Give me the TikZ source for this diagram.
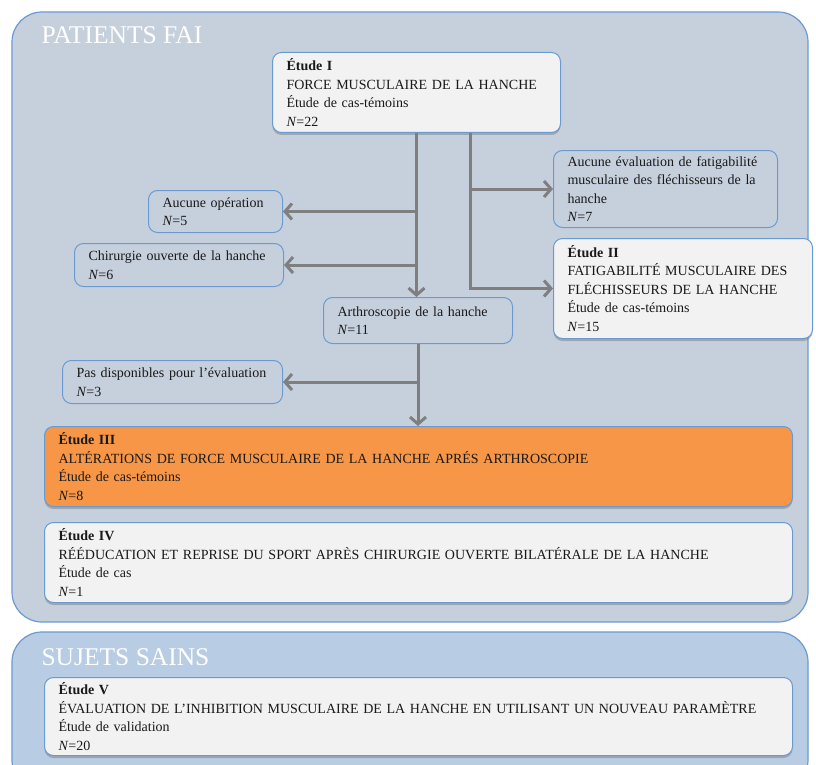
\documentclass[tikz,border=0pt]{standalone}
\usepackage{fontspec}
\setmainfont{Liberation Serif}
\usetikzlibrary{arrows.meta,shadows,calc}
\definecolor{frameblue}{HTML}{6A9AD2}
\definecolor{paneltop}{HTML}{C6D0DD}
\definecolor{panelbot}{HTML}{B8CCE4}
\definecolor{boxwhite}{HTML}{F2F2F2}
\definecolor{studyorange}{HTML}{F79646}
\definecolor{arrowgray}{HTML}{7F7F7F}
\newcommand{\branch}[2]
{
	\draw[flow] (#1 |- #2) -- (#2)
}

\begin{document}
\begin{tikzpicture}[x=1pt, y=-1pt,
			panel/.style={draw=frameblue,
				line width=1.2pt,
			rounded corners=30pt},
			title/.style={anchor=west,
				text=white,
			font=\fontsize{25.5}{26}\selectfont},
			box/.append style={draw=frameblue,
				line width=1pt,
				rounded corners=9pt,
				anchor=north west,
				align=left,
				inner xsep=14pt,
				inner ysep=3pt,
				text=black!90,
			font=\fontsize{14}{18.5}\selectfont},
			study/.append style={box,
				fill=boxwhite,
			drop shadow={opacity=0.5, shadow xshift=0pt, shadow yshift=-2.5pt}},
			flow/.style ={draw=arrowgray, line width=3pt,
			-{Straight Barb[length=7pt, width=16pt, line width=3pt]}}]
			
			\useasboundingbox (0,0) rectangle (816,765);
			\clip (0,0) rectangle (816,765);
			
			% the two groups
			\draw[panel, fill=paneltop] (12,12) rectangle (808,622);
			\draw[panel, fill=panelbot] (12,632) rectangle (808,790);
			\node[title] at (38,35) (patients){PATIENTS FAI};
			\node[title] at (38,657) (sains){SUJETS SAINS};
			
			\node[study, text width=260pt, minimum height=80pt] at (272,52) (etudeI){\textbf{Étude I}\\FORCE MUSCULAIRE DE LA HANCHE\\Étude de cas-témoins\\\textit{N}=22};
			\node[box, text width=196pt, minimum height=77pt] at (553,150) (aucEval){Aucune évaluation de fatigabilité\\musculaire des fléchisseurs de la\\hanche\\\textit{N}=7};
			\node[study, text width=231pt, minimum height=100pt] at (553,238) (etudeII){\textbf{Étude II}\\FATIGABILITÉ MUSCULAIRE DES\\FLÉCHISSEURS DE LA HANCHE\\Étude de cas-témoins\\\textit{N}=15};
			
			\node[box, text width=106pt, minimum height=42pt] at (148,190) (aucOp){Aucune opération\\\textit{N}=5};
			\node[box, text width=181pt, minimum height=43pt] at (74,243) (chir){Chirurgie ouverte de la hanche\\\textit{N}=6};
			\node[box, text width=161pt, minimum height=46pt] at (323,297) (arthro){Arthroscopie de la hanche\\\textit{N}=11};
			\node[box, text width=192pt, minimum height=43pt] at (62,360) (pasDisp){Pas disponibles pour l’évaluation\\\textit{N}=3};
			
			\node[study, fill=studyorange, text width=720pt, minimum height=80pt] at (44,426) (etudeIII){\textbf{Étude III}\\ALTÉRATIONS DE FORCE MUSCULAIRE DE LA HANCHE APRÉS ARTHROSCOPIE\\Étude de cas-témoins\\\textit{N}=8};
			\node[study, text width=720pt, minimum height=80pt] at (44,522) (etudeIV){\textbf{Étude IV}\\RÉÉDUCATION ET REPRISE DU SPORT APRÈS CHIRURGIE OUVERTE BILATÉRALE DE LA HANCHE\\Étude de cas\\\textit{N}=1};
			\node[study, text width=720pt, minimum height=78pt] at (44,677) (etudeV){\textbf{Étude V}\\ÉVALUATION DE L’INHIBITION MUSCULAIRE DE LA HANCHE EN UTILISANT UN NOUVEAU PARAMÈTRE\\Étude de validation\\\textit{N}=20};
			
			% arrows
			\draw[flow] (etudeI.south) -- (etudeI.south |- arthro.north);
			\branch{etudeI.south}{aucOp.east};
			\branch{etudeI.south}{chir.east};
			
			\coordinate (fork) at ($(etudeI.south)+(54,0)$);
			\draw[flow] (fork) |- (etudeII.west);
			\branch{fork}{aucEval.west};
			
			\draw[flow] (arthro.south) -- (arthro.south |- etudeIII.north);
			\branch{arthro.south}{pasDisp.east};
		\end{tikzpicture}
\end{document}
